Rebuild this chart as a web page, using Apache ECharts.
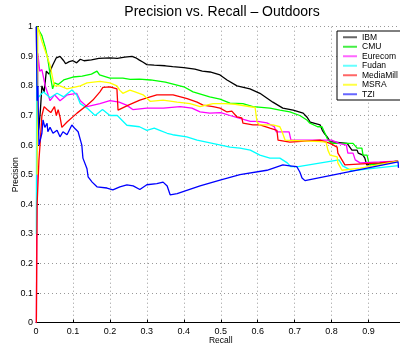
<!DOCTYPE html>
<html><head><meta charset="utf-8">
<script src="https://cdn.jsdelivr.net/npm/echarts@6/dist/echarts.min.js"></script>
<style>html,body{margin:0;padding:0;background:#fff}#c{width:400px;height:343px}</style>
</head><body><div id="c"></div>
<script>
const seriesNames = ['IBM','CMU','Eurecom','Fudan','MediaMill','MSRA','TZI'];
const seriesColors = ['#000000','#00ff00','#ff00ff','#00ffff','#ff0000','#ffff00','#0000ff'];
const legendColors = ['#666666','#44ee44','#ff66ff','#66ffff','#ff6666','#ffff44','#6666ff'];
const xTicks = [0,0.1,0.2,0.3,0.4,0.5,0.6,0.7,0.8,0.9,1];
const yTicks = [0,0.1,0.2,0.3,0.4,0.5,0.6,0.7,0.8,0.9,1];

const ibm = [[0.001,1.0],[0.004,0.63],[0.008,0.66],[0.012,0.72],[0.016,0.80],[0.022,0.78],[0.028,0.85],[0.035,0.84],[0.045,0.87],[0.055,0.895],[0.065,0.90],[0.075,0.885],[0.08,0.875],[0.09,0.882],[0.1,0.885],[0.11,0.878],[0.12,0.89],[0.13,0.885],[0.15,0.888],[0.17,0.893],[0.2,0.895],[0.22,0.893],[0.24,0.897],[0.26,0.90],[0.27,0.895],[0.28,0.887],[0.29,0.88],[0.3,0.872],[0.32,0.87],[0.35,0.868],[0.37,0.865],[0.4,0.862],[0.43,0.857],[0.45,0.85],[0.471,0.847],[0.498,0.837],[0.517,0.82],[0.544,0.80],[0.579,0.79],[0.606,0.775],[0.641,0.745],[0.668,0.725],[0.696,0.718],[0.723,0.708],[0.733,0.695],[0.742,0.678],[0.769,0.668],[0.775,0.65],[0.78,0.64],[0.788,0.628],[0.796,0.612],[0.842,0.606],[0.855,0.583],[0.869,0.583],[0.872,0.573],[0.885,0.566],[0.89,0.556],[0.895,0.533],[0.93,0.538],[0.98,0.546]];
const cmu = [[0.002,1.0],[0.016,0.97],[0.025,0.93],[0.032,0.89],[0.038,0.84],[0.045,0.79],[0.05,0.81],[0.06,0.805],[0.075,0.82],[0.1,0.83],[0.125,0.833],[0.15,0.84],[0.165,0.85],[0.172,0.837],[0.2,0.826],[0.235,0.826],[0.255,0.822],[0.28,0.823],[0.31,0.82],[0.35,0.813],[0.4,0.797],[0.425,0.78],[0.47,0.763],[0.498,0.755],[0.525,0.742],[0.56,0.74],[0.587,0.73],[0.633,0.725],[0.66,0.718],[0.687,0.712],[0.714,0.70],[0.733,0.685],[0.74,0.675],[0.762,0.662],[0.774,0.662],[0.782,0.64],[0.79,0.617],[0.8,0.606],[0.858,0.606],[0.869,0.59],[0.882,0.59],[0.885,0.566],[0.896,0.566],[0.9,0.543],[0.904,0.533],[0.93,0.538],[0.98,0.546]];
const eurecom = [[0.001,0.0],[0.002,0.33],[0.004,0.6],[0.005,0.91],[0.01,0.85],[0.016,0.855],[0.025,0.80],[0.038,0.75],[0.05,0.77],[0.065,0.75],[0.085,0.77],[0.11,0.775],[0.12,0.75],[0.138,0.73],[0.173,0.74],[0.2,0.75],[0.225,0.745],[0.245,0.735],[0.262,0.72],[0.3,0.725],[0.345,0.725],[0.39,0.73],[0.422,0.725],[0.444,0.712],[0.47,0.708],[0.5,0.71],[0.525,0.70],[0.552,0.69],[0.58,0.68],[0.6,0.68],[0.625,0.675],[0.645,0.662],[0.65,0.645],[0.685,0.645],[0.69,0.617],[0.8,0.617],[0.82,0.606],[0.84,0.6],[0.844,0.573],[0.858,0.573],[0.864,0.55],[0.877,0.54],[0.93,0.543],[0.98,0.546]];
const fudan = [[0.001,0.3],[0.002,1.0],[0.005,0.76],[0.02,0.78],[0.038,0.76],[0.057,0.775],[0.075,0.763],[0.097,0.786],[0.11,0.77],[0.12,0.74],[0.138,0.725],[0.16,0.70],[0.18,0.72],[0.2,0.70],[0.22,0.70],[0.246,0.667],[0.28,0.662],[0.3,0.65],[0.32,0.657],[0.335,0.65],[0.355,0.64],[0.37,0.635],[0.408,0.628],[0.436,0.617],[0.5,0.60],[0.525,0.593],[0.552,0.59],[0.58,0.583],[0.606,0.566],[0.633,0.556],[0.66,0.556],[0.68,0.54],[0.69,0.527],[0.71,0.527],[0.82,0.55],[0.83,0.53],[0.855,0.513],[0.9,0.52],[0.975,0.53],[0.98,0.53]];
const mediamill = [[0.001,0.0],[0.003,0.4],[0.008,0.55],[0.012,0.62],[0.016,0.7],[0.022,0.73],[0.03,0.72],[0.04,0.71],[0.05,0.73],[0.055,0.70],[0.06,0.72],[0.065,0.695],[0.07,0.66],[0.084,0.678],[0.111,0.708],[0.138,0.735],[0.154,0.752],[0.173,0.78],[0.181,0.795],[0.2,0.797],[0.219,0.79],[0.222,0.718],[0.25,0.735],[0.281,0.752],[0.309,0.763],[0.327,0.77],[0.371,0.77],[0.409,0.757],[0.436,0.745],[0.452,0.735],[0.479,0.73],[0.498,0.725],[0.517,0.712],[0.53,0.715],[0.544,0.695],[0.557,0.692],[0.56,0.674],[0.587,0.668],[0.606,0.668],[0.633,0.657],[0.652,0.65],[0.655,0.617],[0.687,0.61],[0.769,0.617],[0.796,0.606],[0.815,0.593],[0.817,0.573],[0.828,0.55],[0.836,0.533],[0.93,0.54],[0.98,0.546]];
const msra = [[0.003,0.5],[0.005,1.0],[0.016,0.95],[0.03,0.90],[0.038,0.87],[0.046,0.82],[0.05,0.80],[0.065,0.80],[0.084,0.79],[0.12,0.80],[0.138,0.81],[0.173,0.815],[0.2,0.81],[0.219,0.80],[0.227,0.785],[0.235,0.775],[0.254,0.786],[0.268,0.78],[0.29,0.77],[0.309,0.748],[0.344,0.752],[0.382,0.745],[0.417,0.74],[0.444,0.73],[0.479,0.74],[0.511,0.74],[0.539,0.738],[0.593,0.727],[0.598,0.678],[0.606,0.668],[0.641,0.668],[0.66,0.662],[0.666,0.645],[0.674,0.617],[0.769,0.612],[0.785,0.61],[0.79,0.583],[0.796,0.566],[0.815,0.56],[0.817,0.54],[0.828,0.515],[0.877,0.522],[0.98,0.546]];
const tzi = [[0.001,1.0],[0.003,0.75],[0.005,0.8],[0.008,0.6],[0.011,0.6],[0.016,0.64],[0.019,0.685],[0.024,0.66],[0.03,0.674],[0.032,0.645],[0.038,0.66],[0.046,0.64],[0.057,0.65],[0.065,0.628],[0.073,0.645],[0.084,0.635],[0.097,0.668],[0.106,0.655],[0.114,0.645],[0.124,0.60],[0.127,0.556],[0.138,0.52],[0.141,0.493],[0.152,0.475],[0.165,0.459],[0.192,0.455],[0.208,0.449],[0.227,0.459],[0.246,0.466],[0.263,0.462],[0.281,0.45],[0.3,0.466],[0.327,0.47],[0.344,0.475],[0.355,0.462],[0.363,0.432],[0.382,0.436],[0.444,0.462],[0.498,0.482],[0.552,0.5],[0.625,0.515],[0.668,0.533],[0.687,0.53],[0.706,0.527],[0.714,0.509],[0.72,0.489],[0.728,0.48],[0.98,0.543],[0.981,0.523]];

const allData = [ibm, cmu, eurecom, fudan, mediamill, msra, tzi];
const FONT = 'Liberation Sans, Arial, Helvetica, sans-serif';

const chart = echarts.init(document.getElementById('c'), null, {renderer:'canvas'});
chart.setOption({
  animation: false,
  backgroundColor: '#ffffff',
  title: {
    text: 'Precision vs. Recall \u2013 Outdoors',
    left: 222, top: 5, textAlign: 'center', padding: 0,
    textStyle: {fontFamily: FONT, fontSize: 14, fontWeight: 'normal', color: '#000'}
  },
  grid: {left: 36, right: -5.5, top: 26.7, bottom: 20.3, containLabel: false, outerBoundsMode: 'none'},
  legend: {
    orient: 'vertical', left: 337, top: 31,
    padding: [1.5, 4, 1, 6],
    itemWidth: 14, itemHeight: 2, itemGap: 0,
    icon: 'rect',
    backgroundColor: '#ffffff', borderColor: '#000', borderWidth: 1,
    textStyle: {fontFamily: FONT, fontSize: 8.5, lineHeight: 9.5, color: '#000', padding: [0,0,0,0]},
    data: seriesNames.map((n, i) => ({name: n, itemStyle: {color: legendColors[i]}}))
  },
  xAxis: {
    type: 'value', min: xTicks[0], max: xTicks[xTicks.length-1], interval: 0.1,
    name: 'Recall', nameLocation: 'middle', nameGap: 13, nameMoveOverlap: false,
    nameTextStyle: {fontFamily: FONT, fontSize: 8.5, color: '#000'},
    axisLine: {show: true, onZero: false, lineStyle: {color: '#000', width: 1}},
    axisTick: {show: true, inside: true, length: 3, lineStyle: {color: '#000'}},
    axisLabel: {fontFamily: FONT, fontSize: 9, color: '#000', margin: 4},
    splitLine: {show: true, lineStyle: {color: '#999', type: [1, 3], width: 1}}
  },
  yAxis: {
    type: 'value', min: yTicks[0], max: yTicks[yTicks.length-1], interval: 0.1,
    name: 'Precision', nameLocation: 'middle', nameGap: 16, nameRotate: 90, nameMoveOverlap: false,
    nameTextStyle: {fontFamily: FONT, fontSize: 8.5, color: '#000'},
    axisLine: {show: true, onZero: false, lineStyle: {color: '#000', width: 1}},
    axisTick: {show: true, inside: true, length: 3, lineStyle: {color: '#000'}},
    axisLabel: {fontFamily: FONT, fontSize: 9, color: '#000', margin: 3},
    splitLine: {show: true, lineStyle: {color: '#999', type: [1, 3], width: 1}}
  },
  series: seriesNames.map((n, i) => ({
    name: n, type: 'line', data: allData[i], showSymbol: false, symbol: 'none',
    lineStyle: {color: seriesColors[i], width: 1.3},
    itemStyle: {color: seriesColors[i]},
    z: 2 + i
  }))
});
</script></body></html>
